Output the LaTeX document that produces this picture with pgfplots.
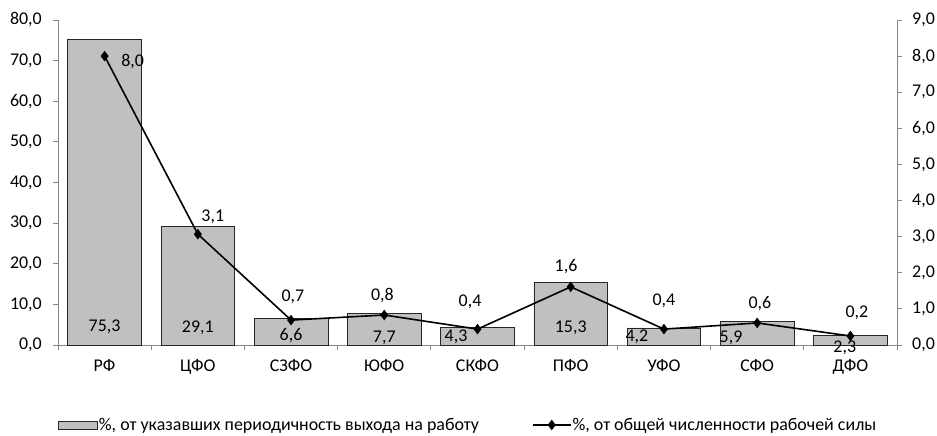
\documentclass[border=0pt]{standalone}
\usepackage{fontspec}
\setmainfont{Carlito}
\usepackage{pgfplots}
\pgfplotsset{compat=1.18}

\definecolor{barfill}{HTML}{C0C0C0}
\definecolor{axisgray}{HTML}{868686}

\pgfplotsset{
  common/.style={
    scale only axis, width=839bp, height=325bp,
    xmin=-0.5, xmax=8.5,
    tick align=outside,
    major tick length=5bp, minor tick length=5bp,
    every tick/.style={axisgray, line width=0.8bp},
    axis line style={axisgray, line width=0.8bp},
    yticklabel={\pgfmathprintnumber[fixed, fixed zerofill, precision=1, use comma, assume math mode=true]{\tick}},
  },
  linelegend/.style={
    legend image code/.code={\draw[mark repeat=2, mark phase=2, ##1] plot coordinates {(0bp,0bp) (19bp,0bp) (38bp,0bp)};}
  },
}

\begin{document}
\begin{tikzpicture}[font=\fontsize{18}{21}\selectfont]
\path[use as bounding box] (-58bp,-91bp) rectangle (879bp,345bp);

% left axis: bars
\begin{axis}[common,
    ymin=0, ymax=80, ytick={0,10,...,80},
    axis y line*=left, axis x line*=bottom,
    yticklabel style={anchor=east, inner sep=0pt, xshift=-11bp},
    xtick={0,...,8},
    xticklabels={РФ,ЦФО,СЗФО,ЮФО,СКФО,ПФО,УФО,СФО,ДФО},
    major x tick style={draw=none},
    minor xtick={-0.5,0.5,...,8.5},
    xticklabel style={yshift=-6bp},
    clip=false,
    legend columns=2,
    legend style={at={(0,-0.246)}, anchor=west, draw=none, fill=none,
      inner sep=0pt, nodes={inner sep=1bp},
      /tikz/every even column/.append style={column sep=52bp}},
  ]
  \addplot[ybar, bar width=0.79, fill=barfill, draw=black!85, line width=0.7bp,
    legend image code/.code={\draw[fill=barfill, draw=black!85, line width=0.7bp] (0bp,-4bp) rectangle (39bp,4bp);}]
    coordinates {(0,75.3) (1,29.1) (2,6.6) (3,7.7) (4,4.3) (5,15.3) (6,4.2) (7,5.9) (8,2.3)};
  \addlegendentry{\%, от указавших периодичность выхода на работу}

  % bar value labels
  \addplot[forget plot, only marks, mark=none, nodes near coords,
    point meta=explicit symbolic,
    every node near coord/.append style={anchor=center, inner sep=0pt}]
    table[meta=label] {
    x y label
    0 4.4 75,3
    1 4.2 29,1
    2 2.2 6,6
    3 1.7 7,7
    3.77 2.0 4,3
    5.0 4.2 15,3
    5.71 2.0 4,2
    6.72 1.7 5,9
    7.94 -0.7 2,3
    };

  \addlegendimage{black, line width=1.6bp, mark=diamond*, mark size=4bp, linelegend}
  \addlegendentry{\%, от общей численности рабочей силы}
\end{axis}

% right axis: line
\begin{axis}[common,
    ymin=0, ymax=9, ytick={0,...,9},
    axis y line*=right, axis x line=none,
    yticklabel style={anchor=west, inner sep=0pt, xshift=10bp},
    clip=false,
  ]
  \addplot[black, line width=1.6bp, mark=diamond*, mark size=4bp]
    coordinates {(0,8.0) (1,3.07) (2,0.69) (3,0.83) (4,0.44) (5,1.61) (6,0.44) (7,0.61) (8,0.25)};

  % line value labels
  \addplot[only marks, mark=none, nodes near coords,
    point meta=explicit symbolic,
    every node near coord/.append style={anchor=center, inner sep=0pt}]
    table[meta=label] {
    x y label
    0.30 7.84 8,0
    1.16 3.54 3,1
    2.02 1.33 0,7
    2.98 1.37 0,8
    3.92 1.19 0,4
    4.95 2.16 1,6
    6.00 1.22 0,4
    7.03 1.16 0,6
    8.07 0.89 0,2
    };
\end{axis}
\end{tikzpicture}
\end{document}
